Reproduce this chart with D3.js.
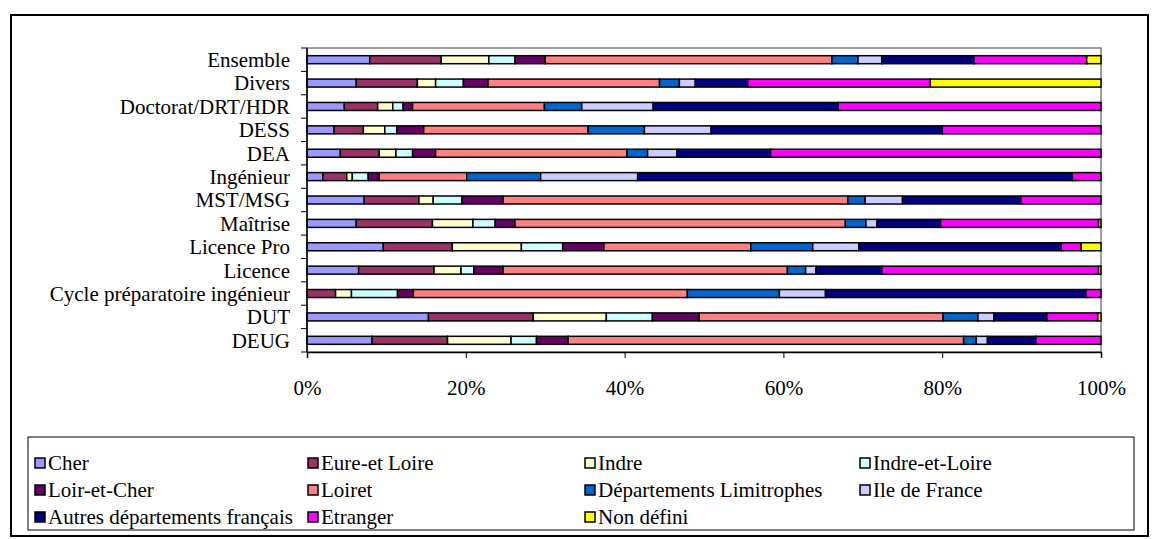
<!DOCTYPE html>
<html>
<head>
<meta charset="utf-8">
<script src="https://cdn.jsdelivr.net/npm/d3@7/dist/d3.min.js"></script>
<style>
  body { margin: 0; background: #fff; }
</style>
</head>
<body>
<svg id="chart" width="1160" height="539"></svg>
<script>
// categories, top to bottom
var categories = ["Ensemble", "Divers", "Doctorat/DRT/HDR", "DESS", "DEA", "Ingénieur",
  "MST/MSG", "Maîtrise", "Licence Pro", "Licence", "Cycle préparatoire ingénieur", "DUT", "DEUG"];

var series = ["Cher", "Eure-et Loire", "Indre", "Indre-et-Loire", "Loir-et-Cher", "Loiret",
  "Départements Limitrophes", "Ile de France", "Autres départements français", "Etranger", "Non défini"];

var colours = ["#9999FF", "#993366", "#FFFFCC", "#CCFFFF", "#660066", "#FF8080",
  "#0066CC", "#CCCCFF", "#000080", "#FF00FF", "#FFFF00"];

// share (%) of each series, one array per series, same order as categories
var cher        = [7.9, 6.2, 4.7, 3.4, 4.2, 2.0, 7.2, 6.2, 9.6, 6.5, 0.0, 15.3, 8.2];
var eureLoire   = [9.0, 7.7, 4.2, 3.7, 4.9, 3.0, 6.9, 9.6, 8.7, 9.5, 3.6, 13.2, 9.5];
var indre       = [6.0, 2.3, 1.9, 2.7, 2.1, 0.7, 1.8, 5.1, 8.7, 3.4, 2.0, 9.2, 8.0];
var indreLoire  = [3.3, 3.5, 1.3, 1.5, 2.1, 2.0, 3.6, 2.8, 5.2, 1.6, 5.8, 5.8, 3.2];
var loirCher    = [3.8, 3.1, 1.2, 3.4, 2.9, 1.4, 5.2, 2.5, 5.2, 3.7, 2.0, 5.9, 4.0];
var loiret      = [36.1, 21.6, 16.6, 20.7, 24.1, 11.0, 43.4, 41.6, 18.5, 35.8, 34.5, 30.7, 49.8];
var limitrophes = [3.3, 2.5, 4.7, 7.1, 2.6, 9.3, 2.2, 2.6, 7.8, 2.3, 11.6, 4.4, 1.6];
var ileFrance   = [3.0, 2.0, 9.0, 8.4, 3.7, 12.2, 4.7, 1.4, 5.8, 1.3, 5.8, 2.0, 1.4];
var autres      = [11.6, 6.6, 23.3, 29.1, 11.8, 54.7, 14.9, 8.0, 25.5, 8.3, 32.8, 6.7, 6.1];
var etranger    = [14.2, 23.0, 33.1, 20.0, 41.6, 3.6, 10.1, 19.9, 2.5, 27.3, 1.9, 6.4, 8.2];
var nonDefini   = [1.8, 21.5, 0.0, 0.0, 0.0, 0.0, 0.0, 0.3, 2.5, 0.3, 0.0, 0.4, 0.0];

var seriesValues = [cher, eureLoire, indre, indreLoire, loirCher, loiret,
  limitrophes, ileFrance, autres, etranger, nonDefini];

var xTicks = [0, 0.2, 0.4, 0.6, 0.8, 1];

var serif = '"Liberation Serif", "Times New Roman", serif';
var fontSize = "21px";

// build rows for d3.stack
var rows = categories.map(function(c, i){
  var r = {category: c};
  series.forEach(function(s, j){ r[s] = seriesValues[j][i]; });
  return r;
});

var svg = d3.select("#chart");

var plot = {left: 307, right: 1101, top: 48, bottom: 352};

// outer frame
svg.append("rect")
  .attr("x", 11).attr("y", 15).attr("width", 1137).attr("height", 521)
  .attr("fill", "none").attr("stroke", "#000").attr("stroke-width", 2);

var x = d3.scaleLinear().domain([0, 1]).range([plot.left, plot.right]);
var y = d3.scaleBand().domain(categories).range([plot.top, plot.bottom]);

var colour = d3.scaleOrdinal().domain(series).range(colours);

var stacked = d3.stack()
  .keys(series)
  .offset(d3.stackOffsetExpand)(rows);

// plot area border (grey)
svg.append("rect")
  .attr("x", plot.left).attr("y", plot.top)
  .attr("width", plot.right - plot.left).attr("height", plot.bottom - plot.top)
  .attr("fill", "none").attr("stroke", "#808080").attr("stroke-width", 1.5);

var barH = 8;
svg.append("g").selectAll("g")
  .data(stacked)
  .join("g")
    .attr("fill", function(d){ return colour(d.key); })
  .selectAll("rect")
  .data(function(d){ return d.filter(function(p){ return p[1] - p[0] > 0; }); })
  .join("rect")
    .attr("x", function(d){ return x(d[0]); })
    .attr("width", function(d){ return x(d[1]) - x(d[0]); })
    .attr("y", function(d){ return y(d.data.category) + y.bandwidth()/2 - barH/2; })
    .attr("height", barH)
    .attr("stroke", "#000")
    .attr("stroke-width", 1.5);

// y axis: ticks at category boundaries
var yAxis = svg.append("g");
yAxis.append("line")
  .attr("x1", plot.left).attr("x2", plot.left)
  .attr("y1", plot.top).attr("y2", plot.bottom)
  .attr("stroke", "#000").attr("stroke-width", 1.5);
yAxis.selectAll("line.tick")
  .data(d3.range(categories.length + 1))
  .join("line")
    .attr("class", "tick")
    .attr("x1", plot.left - 6).attr("x2", plot.left)
    .attr("y1", function(i){ return plot.top + i * y.step(); })
    .attr("y2", function(i){ return plot.top + i * y.step(); })
    .attr("stroke", "#000").attr("stroke-width", 1);
yAxis.selectAll("text")
  .data(categories)
  .join("text")
    .attr("x", 290)
    .attr("y", function(d){ return y(d) + y.bandwidth()/2; })
    .attr("dy", "0.35em")
    .attr("text-anchor", "end")
    .style("font-family", serif)
    .style("font-size", fontSize)
    .text(function(d){ return d; });

// x axis
var xAxis = svg.append("g")
  .attr("transform", "translate(0," + plot.bottom + ")")
  .call(d3.axisBottom(x).tickValues(xTicks).tickFormat(d3.format(".0%")).tickSize(6).tickPadding(22));
xAxis.select(".domain").attr("stroke", "#000").attr("stroke-width", 1.5);
xAxis.selectAll(".tick line").attr("stroke", "#000");
xAxis.selectAll(".tick text")
  .style("font-family", serif)
  .style("font-size", fontSize)
  .attr("fill", "#000");

// legend
var legend = svg.append("g");
legend.append("rect")
  .attr("x", 28).attr("y", 437).attr("width", 1106).attr("height", 93)
  .attr("fill", "#fff").attr("stroke", "#000").attr("stroke-width", 1);

var colX = [35, 308, 585, 860];
var rowY = [463, 490, 517];
var items = legend.selectAll("g.item")
  .data(series)
  .join("g")
    .attr("class", "item")
    .attr("transform", function(d, i){
      return "translate(" + colX[i % 4] + "," + rowY[Math.floor(i / 4)] + ")";
    });
items.append("rect")
  .attr("x", 0).attr("y", -5)
  .attr("width", 10).attr("height", 10)
  .attr("fill", function(d){ return colour(d); })
  .attr("stroke", "#000").attr("stroke-width", 1.5);
items.append("text")
  .attr("x", 13).attr("y", 0).attr("dy", "0.35em")
  .style("font-family", serif)
  .style("font-size", fontSize)
  .text(function(d){ return d; });
</script>
</body>
</html>
